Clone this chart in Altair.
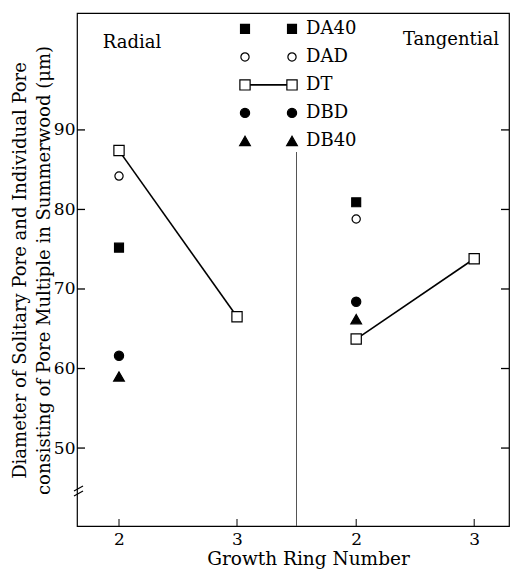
import altair as alt
import pandas as pd

# ---- data ----
series = ["DA40", "DAD", "DT", "DBD", "DB40"]
panels = ["Radial", "Tangential"]
rings = [2, 3]
radial_ring2 = [75.2, 84.2, 87.4, 61.6, 59.0]
tangential_ring2 = [80.9, 78.8, 63.7, 68.4, 66.2]
dt_ring3 = [66.5, 73.8]          # Radial, Tangential
y_ticks = [50, 60, 70, 80, 90]
x_title = "Growth Ring Number"
y_title = ["Diameter of Solitary Pore and Individual Pore",
           "consisting of Pore Multiple in Summerwood (μm)"]

rows = []
for s, v in zip(series, radial_ring2):
    rows.append(dict(panel="Radial", ring=2, series=s, value=v))
for s, v in zip(series, tangential_ring2):
    rows.append(dict(panel="Tangential", ring=2, series=s, value=v))
for p, v in zip(panels, dt_ring3):
    rows.append(dict(panel=p, ring=3, series="DT", value=v))
df = pd.DataFrame(rows)

tick_df = pd.DataFrame([dict(panel=p, ring=r) for p in panels for r in rings])
ytick_df = pd.DataFrame({"v": y_ticks})
leg_df = pd.DataFrame({"series": series, "idx": list(range(len(series)))})
panel_df = pd.DataFrame({"panel": panels})

FONT = "DejaVu Serif"
SHIFT = 2.01
xpos_expr = f"datum.panel == 'Tangential' ? datum.ring + {SHIFT} : datum.ring"

# marker styles per series (symbol area in px^2)
marker_sizes = {"DA40": 80, "DAD": 68, "DT": 105, "DBD": 85, "DB40": 115}
size_expr = " : ".join(f"datum.series == '{k}' ? {v}" for k, v in marker_sizes.items()) + " : 60"

xs = alt.Scale(domain=[1.644, 5.305], nice=False, zero=False)
ys = alt.Scale(domain=[40.2, 104.7], nice=False, zero=False)
shape_scale = alt.Scale(domain=series, range=["square", "circle", "square", "circle", "triangle-up"])
fill_scale = alt.Scale(domain=series, range=["black", "white", "white", "black", "black"])

x_axis = alt.Axis(
    values=[2, 3, 2 + SHIFT, 3 + SHIFT],
    labelExpr=f"datum.value > 3.5 ? round(datum.value - {SHIFT}) : round(datum.value)",
    ticks=False, domain=False, grid=False, labelPadding=5,
    title=x_title, titleX=231, titleY=32, titleBaseline="middle", titleAnchor="middle",
    titleAlign="center", titleFontSize=18.5,
)
y_axis = alt.Axis(
    values=y_ticks, ticks=False, domain=False, grid=False, labelPadding=2,
    title=y_title, titleX=-57, titleY=257, titleBaseline="middle", titleAlign="center",
    titleAnchor="middle", titleLineHeight=24, titleAngle=270, titleFontSize=18,
)

base = alt.Chart(df).transform_calculate(xpos=xpos_expr, sz=size_expr)

points = base.mark_point(filled=True, stroke="black", strokeWidth=1.2, opacity=1).encode(
    x=alt.X("xpos:Q", scale=xs, axis=x_axis),
    y=alt.Y("value:Q", scale=ys, axis=y_axis),
    shape=alt.Shape("series:N", scale=shape_scale, legend=None),
    fill=alt.Fill("series:N", scale=fill_scale, legend=None),
    size=alt.Size("sz:Q", scale=None, legend=None),
)

dt_line = base.transform_filter("datum.series == 'DT'").mark_line(
    color="black", strokeWidth=1.6
).encode(
    x=alt.X("xpos:Q", scale=xs),
    y=alt.Y("value:Q", scale=ys),
    detail="panel:N",
)

# inward ticks
xticks = alt.Chart(tick_df).transform_calculate(xpos=xpos_expr).mark_rule(
    color="black", strokeWidth=1
).encode(x=alt.X("xpos:Q", scale=xs), y=alt.value(513), y2=alt.value(506))
yticks_l = alt.Chart(ytick_df).mark_rule(color="black", strokeWidth=1.3).encode(
    y=alt.Y("v:Q", scale=ys), x=alt.value(0), x2=alt.value(8))
yticks_r = alt.Chart(ytick_df).mark_rule(color="black", strokeWidth=1.3).encode(
    y=alt.Y("v:Q", scale=ys), x=alt.value(424), x2=alt.value(432))

# divider between the two panels
divider = alt.Chart(panel_df.head(1)).mark_rule(color="#555", strokeWidth=1).encode(
    x=alt.value(219.5), y=alt.value(139), y2=alt.value(513))

# axis break
brk1 = alt.Chart(panel_df.head(1)).mark_rule(color="black", strokeWidth=1.2).encode(
    x=alt.value(-3), x2=alt.value(6), y=alt.value(478), y2=alt.value(473))
brk2 = alt.Chart(panel_df.head(1)).mark_rule(color="black", strokeWidth=1.2).encode(
    x=alt.value(-3), x2=alt.value(6), y=alt.value(483), y2=alt.value(478))

# panel labels
lab_r = alt.Chart(panel_df).transform_filter("datum.panel == 'Radial'").mark_text(
    font=FONT, fontSize=18, align="center", baseline="middle", color="black"
).encode(x=alt.value(55), y=alt.value(30), text="panel:N")
lab_t = alt.Chart(panel_df).transform_filter("datum.panel == 'Tangential'").mark_text(
    font=FONT, fontSize=18, align="center", baseline="middle", color="black"
).encode(x=alt.value(374), y=alt.value(27), text="panel:N")

# hand-drawn style legend
legbase = alt.Chart(leg_df).transform_calculate(ly="102.7 - datum.idx * 3.52", sz=size_expr)
leg_line = legbase.transform_filter("datum.series == 'DT'").mark_rule(
    color="black", strokeWidth=1.6
).encode(x=alt.value(168), x2=alt.value(215), y=alt.Y("ly:Q", scale=ys))
leg_pts = []
for px in (168, 215):
    leg_pts.append(
        legbase.mark_point(filled=True, stroke="black", strokeWidth=1.2, opacity=1).encode(
            x=alt.value(px),
            y=alt.Y("ly:Q", scale=ys),
            shape=alt.Shape("series:N", scale=shape_scale, legend=None),
            fill=alt.Fill("series:N", scale=fill_scale, legend=None),
            size=alt.Size("sz:Q", scale=None, legend=None),
        )
    )
leg_text = legbase.mark_text(
    font=FONT, fontSize=18, align="left", baseline="middle", color="black"
).encode(x=alt.value(229), y=alt.Y("ly:Q", scale=ys), text="series:N")

chart = alt.layer(
    divider, xticks, yticks_l, yticks_r, dt_line, points, brk1, brk2,
    lab_r, lab_t, leg_line, *leg_pts, leg_text,
).properties(
    width=432, height=513,
    padding={"left": 77, "top": 13, "right": 1, "bottom": 45},
    autosize=alt.AutoSizeParams(type="none"),
    background="white",
).configure_view(
    stroke="black", strokeWidth=1.2
).configure_axis(
    labelFont=FONT, labelFontSize=17, labelColor="black",
    titleFont=FONT, titleFontWeight="normal", titleColor="black",
)

chart.save("out.html", embed_options={"renderer": "svg", "actions": False})
